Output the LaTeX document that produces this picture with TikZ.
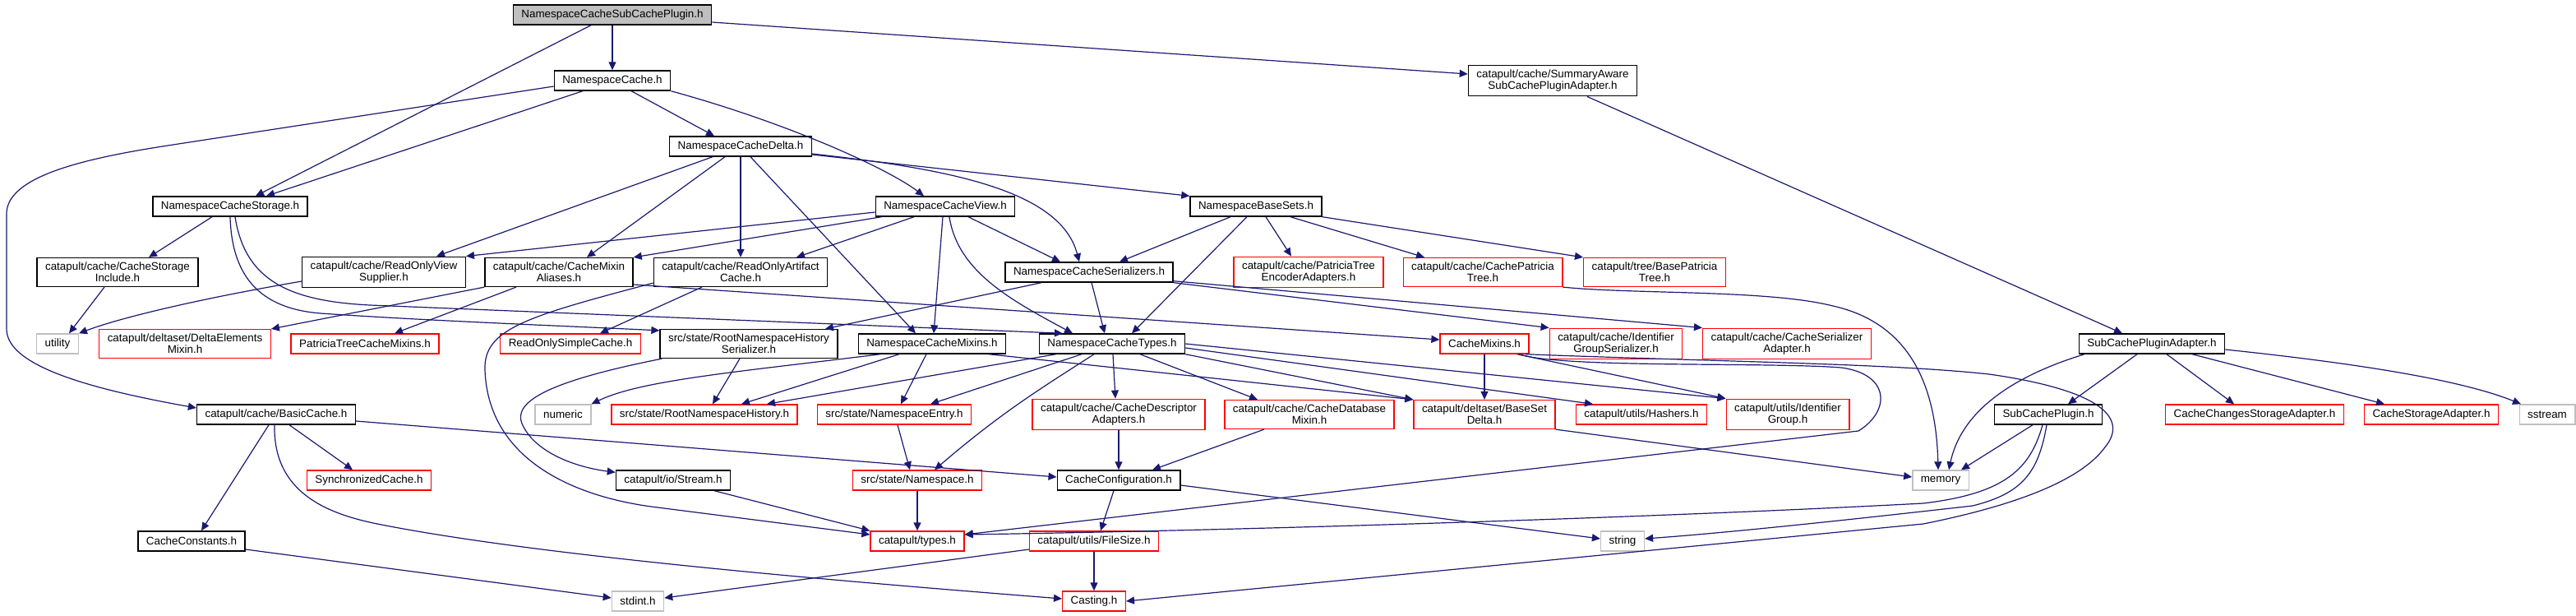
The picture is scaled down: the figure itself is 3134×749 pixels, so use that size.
\documentclass[tikz,border=0pt]{standalone}
\usepackage{fontspec}
\newfontfamily\dxfont{Liberation Sans}
\usetikzlibrary{arrows.meta}
\definecolor{dxedge}{HTML}{191970}
\definecolor{dxgrey}{HTML}{BFBFBF}
\definecolor{dxred}{HTML}{FF0000}

\begin{document}
\begin{tikzpicture}[x=1pt,y=-1pt,
  file/.style={draw=black,line width=1.4pt,fill=white,align=center,
    font=\dxfont\fontsize{13.4}{14}\selectfont,
    inner xsep=10pt,inner ysep=5.5pt,minimum height=24pt},
  filered/.style={file,draw=dxred},
  filesys/.style={file,draw=dxgrey},
  filemain/.style={file,fill=dxgrey},
  inc/.style={draw=dxedge,line width=1.2pt,-{Triangle[length=10pt,width=9pt]}}]
  \useasboundingbox (0,0) rectangle (3134,749);
  % 第 0--3 层
  \node[filemain] (top) at (745,18) {NamespaceCacheSubCachePlugin.h};
  \node[file] (nsc) at (745,98) {NamespaceCache.h};
  \node[file] (sumaw) at (1889,98) {catapult/cache/SummaryAware\\SubCachePluginAdapter.h};
  \node[file] (delta) at (901,178) {NamespaceCacheDelta.h};
  \node[file] (storage) at (280,251) {NamespaceCacheStorage.h};
  \node[file] (view) at (1150,251) {NamespaceCacheView.h};
  \node[file] (basesets) at (1528,251) {NamespaceBaseSets.h};
  % 第 4 层
  \node[file] (csinc) at (143,331) {catapult/cache/CacheStorage\\Include.h};
  \node[file] (rovs) at (467,331) {catapult/cache/ReadOnlyView\\Supplier.h};
  \node[file] (aliases) at (680,331) {catapult/cache/CacheMixin\\Aliases.h};
  \node[file] (roac) at (901,331) {catapult/cache/ReadOnlyArtifact\\Cache.h};
  \node[file] (ser) at (1325,331) {NamespaceCacheSerializers.h};
  \node[filered] (ptenc) at (1592,331) {catapult/cache/PatriciaTree\\EncoderAdapters.h};
  \node[filered] (cpt) at (1804,331) {catapult/cache/CachePatricia\\Tree.h};
  \node[filered] (bpt) at (2013,331) {catapult/tree/BasePatricia\\Tree.h};
  % 第 5 层
  \node[filesys] (utility) at (70,418) {utility};
  \node[filered] (dem) at (225,418) {catapult/deltaset/DeltaElements\\Mixin.h};
  \node[filered] (ptcm) at (444,418) {PatriciaTreeCacheMixins.h};
  \node[filered] (ross) at (694,418) {ReadOnlySimpleCache.h};
  \node[file] (rnhs) at (911,418) {src/state/RootNamespaceHistory\\Serializer.h};
  \node[file] (mixins) at (1134,418) {NamespaceCacheMixins.h};
  \node[file] (types) at (1353,418) {NamespaceCacheTypes.h};
  \node[filered] (cmix) at (1806,418) {CacheMixins.h};
  \node[filered] (igs) at (1966,418) {catapult/cache/Identifier\\GroupSerializer.h};
  \node[filered] (csa) at (2174,418) {catapult/cache/CacheSerializer\\Adapter.h};
  \node[file] (scpa) at (2618,418) {SubCachePluginAdapter.h};
  % 第 6 层
  \node[file] (basic) at (336,504) {catapult/cache/BasicCache.h};
  \node[filesys] (numeric) at (685,504) {numeric};
  \node[filered] (rnh) at (857,504) {src/state/RootNamespaceHistory.h};
  \node[filered] (entry) at (1088,504) {src/state/NamespaceEntry.h};
  \node[filered] (cda) at (1361,504) {catapult/cache/CacheDescriptor\\Adapters.h};
  \node[filered] (cdm) at (1593,504) {catapult/cache/CacheDatabase\\Mixin.h};
  \node[filered] (bsd) at (1806,504) {catapult/deltaset/BaseSet\\Delta.h};
  \node[filered] (hashers) at (1997,504) {catapult/utils/Hashers.h};
  \node[filered] (ig) at (2175,504) {catapult/utils/Identifier\\Group.h};
  \node[file] (scp) at (2492,504) {SubCachePlugin.h};
  \node[filered] (ccsa) at (2743,504) {CacheChangesStorageAdapter.h};
  \node[filered] (csta) at (2958,504) {CacheStorageAdapter.h};
  \node[filesys] (sstream) at (3099,504) {sstream};
  % 第 7--9 层
  \node[filered] (sync) at (449,584) {SynchronizedCache.h};
  \node[file] (stream) at (819,584) {catapult/io/Stream.h};
  \node[filered] (ns) at (1116,584) {src/state/Namespace.h};
  \node[file] (cconf) at (1361,584) {CacheConfiguration.h};
  \node[filesys] (memory) at (2361,584) {memory};
  \node[file] (cconst) at (233,658) {CacheConstants.h};
  \node[filered] (ctypes) at (1116,658) {catapult/types.h};
  \node[filered] (fsize) at (1331,658) {catapult/utils/FileSize.h};
  \node[filesys] (string) at (1974,658) {string};
  \node[filesys] (stdint) at (776,731) {stdint.h};
  \node[filered] (casting) at (1331,731) {Casting.h};

  % 顶部文件
  \draw[inc] (top.south) -- (nsc.north);
  \draw[inc] ([xshift=-26pt]top.south) -- ([xshift=31pt]storage.north);
  \draw[inc] ([yshift=-9pt]top.east) -- ([yshift=8pt]sumaw.west);
  % NamespaceCache.h
  \draw[inc] ([xshift=-36pt]nsc.south) -- ([xshift=44pt]storage.north);
  \draw[inc] ([xshift=23pt]nsc.south) -- ([xshift=-32pt]delta.north);
  \draw[inc] (nsc.south east) .. controls (960,150) and (1080,205) .. ([xshift=-26pt]view.north);
  \draw[inc] ([yshift=-7pt]nsc.west) -- (204,177) .. controls (100,193) and (8,215) .. (8,260)
    -- (8,400) .. controls (8,445) and (110,473) .. ([yshift=8pt]basic.west);
  \draw[inc] ([xshift=42pt]sumaw.south) -- ([xshift=-36pt]scpa.north);
  % NamespaceCacheDelta.h
  \draw[inc] ([xshift=-34pt]delta.south) -- ([xshift=64pt]rovs.north);
  \draw[inc] ([xshift=-19pt]delta.south) -- ([xshift=34pt]aliases.north);
  \draw[inc] (delta.south) -- (roac.north);
  \draw[inc] ([xshift=12pt]delta.south) -- ([xshift=-20pt]mixins.north);
  \draw[inc] ([yshift=-9pt]delta.east) .. controls (1150,205) and (1290,230) .. ([xshift=-12pt]ser.north);
  \draw[inc] ([yshift=-10pt]delta.east) -- (basesets.north west);
  % NamespaceCacheStorage.h
  \draw[inc] ([xshift=-22pt]storage.south) -- ([xshift=38pt]csinc.north);
  \draw[inc] (storage.south) .. controls (282,335) and (315,375) .. (390,381)
    .. controls (520,390) and (680,396) .. ([yshift=-2pt]rnhs.north west);
  \draw[inc] ([xshift=6pt]storage.south) .. controls (298,340) and (350,366) .. (450,371)
    -- ([xshift=-60pt]types.north);
  \draw[inc] ([xshift=-16pt]csinc.south) -- ([xshift=14pt]utility.north);
  \draw[inc] ([yshift=-11pt]rovs.west) .. controls (250,362) and (150,385) .. (utility.north east);
  % NamespaceCacheView.h
  \draw[inc] ([yshift=-7pt]view.west) -- (rovs.north east);
  \draw[inc] ([xshift=8pt]view.south west) -- (aliases.north east);
  \draw[inc] ([xshift=-38pt]view.south) -- ([xshift=68pt]roac.north);
  \draw[inc] ([xshift=28pt]view.south) -- ([xshift=-35pt]ser.north);
  \draw[inc] ([xshift=-3pt]view.south) -- ([xshift=2pt]mixins.north);
  \draw[inc] ([xshift=5pt]view.south) .. controls (1165,330) and (1230,365) .. ([xshift=-48pt]types.north);
  % NamespaceBaseSets.h
  \draw[inc] ([xshift=-31pt]basesets.south) -- ([xshift=37pt]ser.north);
  \draw[inc] ([xshift=-11pt]basesets.south) -- ([xshift=24pt]types.north);
  \draw[inc] ([xshift=12pt]basesets.south) -- ([xshift=-21pt]ptenc.north);
  \draw[inc] ([xshift=42pt]basesets.south) -- ([xshift=-71pt]cpt.north);
  \draw[inc] (basesets.south east) -- (bpt.north west);
  % NamespaceCacheSerializers.h
  \draw[inc] ([xshift=-58pt]ser.south) -- ([xshift=93pt]rnhs.north);
  \draw[inc] ([xshift=3pt]ser.south) -- ([xshift=-9pt]types.north);
  \draw[inc] (ser.south east) -- (igs.north west);
  \draw[inc] ([yshift=2pt]ser.south east) -- (csa.north west);
  % 第 4 层其余
  \draw[inc] (aliases.south west) -- (dem.north east);
  \draw[inc] ([xshift=-52pt]aliases.south) -- ([xshift=36pt]ptcm.north);
  \draw[inc] ([yshift=-15pt]aliases.east) -- ([yshift=5pt]cmix.west);
  \draw[inc] ([xshift=-47pt]roac.south) -- ([xshift=36pt]ross.north);
  \draw[inc] ([yshift=5pt]roac.south west) .. controls (640,385) and (588,400) .. (590,450)
    .. controls (594,560) and (700,605) .. (800,617) -- ([yshift=8pt]ctypes.west);
  \draw[inc] (cpt.south east) .. controls (1990,358) and (2150,352) .. (2230,372)
    .. controls (2310,390) and (2355,450) .. ([xshift=-3pt]memory.north);
  % 第 5 层
  \draw[inc] ([xshift=-11pt]rnhs.south) -- ([xshift=10pt]rnh.north);
  \draw[inc] ([xshift=3pt]rnhs.south west) .. controls (660,465) and (625,490) .. (635,515)
    .. controls (650,550) and (700,568) .. ([yshift=-3pt]stream.north west);
  \draw[inc] ([xshift=-63pt]mixins.south) .. controls (900,452) and (780,462) .. (numeric.north east);
  \draw[inc] ([xshift=-40pt]mixins.south) -- ([xshift=45pt]rnh.north);
  \draw[inc] ([xshift=-7pt]mixins.south) -- ([xshift=8pt]entry.north);
  \draw[inc] ([xshift=69pt]mixins.south) -- (bsd.north west);
  \draw[inc] ([xshift=21pt]types.south west) -- ([xshift=76pt]rnh.north);
  \draw[inc] ([xshift=-37pt]types.south) -- ([xshift=44pt]entry.north);
  \draw[inc] ([xshift=-22pt]types.south) .. controls (1270,470) and (1220,500) .. ([xshift=21pt]ns.north);
  \draw[inc] ([xshift=1pt]types.south) -- ([xshift=-4pt]cda.north);
  \draw[inc] ([xshift=34pt]types.south) -- ([xshift=-63pt]cdm.north);
  \draw[inc] (types.south east) -- (bsd.north west);
  \draw[inc] ([yshift=-5pt]types.east) -- ([xshift=-59pt]hashers.north);
  \draw[inc] (types.east) -- (ig.north west);
  \draw[inc] (cmix.south) -- (bsd.north);
  \draw[inc] ([xshift=40pt]cmix.south) -- (ig.north west);
  \draw[inc] ([xshift=42pt]cmix.south) .. controls (1900,448) and (2150,440) .. (2240,447)
    .. controls (2300,455) and (2300,500) .. (2261,524) -- ([yshift=8pt]ctypes.east);
  \draw[inc] ([xshift=50pt]cmix.south) .. controls (2100,440) and (2300,442) .. (2420,455)
    .. controls (2560,475) and (2590,510) .. (2560,545)
    .. controls (2530,585) and (2450,615) .. (2340,637) -- (casting.east);
  \draw[inc] ([xshift=-82pt]scpa.south) .. controls (2440,460) and (2385,505) .. ([xshift=10pt]memory.north);
  \draw[inc] ([xshift=-18pt]scpa.south) -- ([xshift=24pt]scp.north);
  \draw[inc] ([xshift=18pt]scpa.south) -- ([xshift=-25pt]ccsa.north);
  \draw[inc] ([xshift=49pt]scpa.south) -- ([xshift=-57pt]csta.north);
  \draw[inc] ([yshift=-7pt]scpa.east) .. controls (2850,440) and (2990,460) .. ([xshift=-32pt]sstream.north);
  % 第 6 层
  \draw[inc] ([yshift=-8pt]basic.east) -- ([yshift=4pt]cconf.west);
  \draw[inc] ([xshift=16pt]basic.south) -- ([xshift=-20pt]sync.north);
  \draw[inc] ([xshift=-9pt]basic.south) -- ([xshift=12pt]cconst.north);
  \draw[inc] ([xshift=-2pt]basic.south) .. controls (332,600) and (400,625) .. (459,637)
    .. controls (650,675) and (1000,705) .. ([yshift=3pt]casting.west);
  \draw[inc] ([xshift=4pt]entry.south) -- ([xshift=-9pt]ns.north);
  \draw[inc] (cda.south) -- (cconf.north);
  \draw[inc] ([xshift=-55pt]cdm.south) -- ([xshift=41pt]cconf.north);
  \draw[inc] (bsd.south east) -- ([yshift=4pt]memory.west);
  \draw[inc] ([xshift=-19pt]scp.south) -- ([xshift=25pt]memory.north);
  \draw[inc] ([xshift=-7pt]scp.south) .. controls (2470,570) and (2440,600) .. (2340,612)
    .. controls (2000,630) and (1500,645) .. ([yshift=8pt]ctypes.east);
  \draw[inc] ([xshift=-2pt]scp.south) .. controls (2480,575) and (2460,600) .. (2400,615)
    .. controls (2250,632) and (2100,648) .. ([yshift=3pt]string.east);
  % 第 7--8 层
  \draw[inc] ([xshift=50pt]stream.south) -- (ctypes.north west);
  \draw[inc] (ns.south) -- (ctypes.north);
  \draw[inc] ([xshift=-6pt]cconf.south) -- ([xshift=8pt]fsize.north);
  \draw[inc] ([yshift=-6pt]cconf.east) -- ([yshift=3pt]string.west);
  \draw[inc] ([yshift=-10pt]cconst.east) -- ([yshift=4pt]stdint.west);
  \draw[inc] ([yshift=-10pt]fsize.west) -- ([yshift=4pt]stdint.east);
  \draw[inc] (fsize.south) -- (casting.north);
\end{tikzpicture}
\end{document}
